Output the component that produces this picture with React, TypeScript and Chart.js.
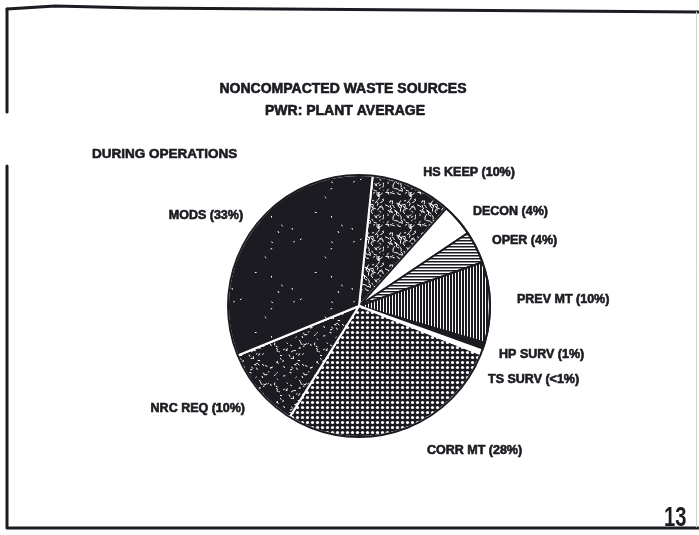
import { useEffect, useRef } from 'react';
import { Chart, registerables } from 'chart.js';

Chart.register(...registerables);

// Waste sources, clockwise from the top of the pie
const categories = ['HS KEEP', 'DECON', 'OPER', 'PREV MT', 'HP SURV', 'TS SURV', 'CORR MT', 'NRC REQ', 'MODS'];
const shares = [10, 4, 4, 10, 1, 0.5, 28, 10, 33];
const shareText = ['10%', '4%', '4%', '10%', '1%', '<1%', '28%', '10%', '33%'];

const titleLines = ['NONCOMPACTED WASTE SOURCES', 'PWR: PLANT AVERAGE'];
const subtitle = 'DURING OPERATIONS';
const pageNumber = '13';

// Label anchors around the pie: offsets in units of the pie radius, plus text alignment
const labelAnchors: [number, number, CanvasTextAlign][] = [
  [0.49, -1.02, 'left'],
  [0.87, -0.72, 'left'],
  [1.015, -0.5, 'left'],
  [1.206, -0.046, 'left'],
  [1.069, 0.374, 'left'],
  [0.985, 0.565, 'left'],
  [0.519, 1.107, 'left'],
  [-0.87, 0.779, 'right'],
  [-0.885, -0.687, 'right'],
];

const INK = '#1b1b21';
const FONT = '"Liberation Sans", Arial, sans-serif';

function seeded(seed: number) {
  let s = seed >>> 0;
  return () => {
    s = (Math.imul(s, 1664525) + 1013904223) >>> 0;
    return s / 4294967296;
  };
}

function tile(size: number, paint: (g: CanvasRenderingContext2D, n: number) => void): CanvasPattern {
  const c = document.createElement('canvas');
  c.width = size;
  c.height = size;
  const g = c.getContext('2d')!;
  paint(g, size);
  return g.createPattern(c, 'repeat')!;
}

// dark ground with scattered light flecks
function flecks(size: number, count: number, seed: number, maxLen: number) {
  return tile(size, (g, n) => {
    const r = seeded(seed);
    g.fillStyle = INK;
    g.fillRect(0, 0, n, n);
    g.strokeStyle = '#ffffff';
    g.lineWidth = 1;
    g.lineCap = 'round';
    for (let i = 0; i < count; i++) {
      const x = r() * n;
      const y = r() * n;
      const a = r() * Math.PI * 2;
      const l = 0.6 + r() * maxLen;
      g.beginPath();
      g.moveTo(x, y);
      g.lineTo(x + Math.cos(a) * l, y + Math.sin(a) * l);
      if (maxLen > 2) {
        const b = a + (r() - 0.5) * 2.4;
        g.lineTo(x + Math.cos(a) * l + Math.cos(b) * l, y + Math.sin(a) * l + Math.sin(b) * l);
      }
      g.stroke();
    }
  });
}

function stripes(horizontal: boolean, period: number, ink: number) {
  return tile(period, (g, n) => {
    g.fillStyle = '#ffffff';
    g.fillRect(0, 0, n, n);
    g.fillStyle = INK;
    if (horizontal) g.fillRect(0, 0, n, ink);
    else g.fillRect(0, 0, ink, n);
  });
}

function dots() {
  return tile(5, (g, n) => {
    g.fillStyle = INK;
    g.fillRect(0, 0, n, n);
    g.fillStyle = '#ffffff';
    g.beginPath();
    g.arc(2.5, 2.5, 1.6, 0, Math.PI * 2);
    g.fill();
  });
}

function drawText(ctx: CanvasRenderingContext2D, text: string, x: number, y: number, size: number, align: CanvasTextAlign) {
  ctx.save();
  ctx.font = `bold ${size}px ${FONT}`;
  ctx.textAlign = align;
  ctx.textBaseline = 'middle';
  ctx.fillStyle = INK;
  ctx.strokeStyle = INK;
  ctx.lineWidth = 0.6;
  ctx.fillText(text, x, y);
  ctx.strokeText(text, x, y);
  ctx.restore();
}

const pageDecor = {
  id: 'pageDecor',
  beforeDraw(chart: Chart) {
    const ctx = chart.ctx;
    ctx.save();
    ctx.fillStyle = '#ffffff';
    ctx.fillRect(0, 0, chart.width, chart.height);
    ctx.strokeStyle = INK;
    ctx.lineWidth = 3;
    ctx.lineCap = 'round';
    ctx.lineJoin = 'round';
    // top edge
    ctx.beginPath();
    ctx.moveTo(7, 9);
    ctx.lineTo(55, 6);
    ctx.lineTo(140, 8);
    ctx.lineTo(chart.width, 12);
    ctx.stroke();
    // left edge, broken
    ctx.beginPath();
    ctx.moveTo(7, 9);
    ctx.lineTo(7, 112);
    ctx.moveTo(7, 166);
    ctx.lineTo(7, 527);
    ctx.stroke();
    // bottom edge
    ctx.beginPath();
    ctx.moveTo(7, 528);
    ctx.lineTo(chart.width, 528);
    ctx.stroke();
    // faint right edge
    ctx.strokeStyle = '#d0d0d0';
    ctx.lineWidth = 1;
    ctx.beginPath();
    ctx.moveTo(chart.width - 2.5, 12);
    ctx.lineTo(chart.width - 2.5, 527);
    ctx.stroke();
    ctx.restore();
  },
  afterDatasetsDraw(chart: Chart) {
    const ctx = chart.ctx;
    const arcs = chart.getDatasetMeta(0).data as any[];
    const { x, y, outerRadius } = arcs[0].getProps(['x', 'y', 'outerRadius'], true);

    ctx.save();
    ctx.strokeStyle = INK;
    ctx.lineWidth = 2;
    ctx.beginPath();
    ctx.arc(x, y, outerRadius, 0, Math.PI * 2);
    ctx.stroke();
    ctx.restore();

    categories.forEach((c, i) => {
      const [dx, dy, align] = labelAnchors[i];
      drawText(ctx, `${c} (${shareText[i]})`, x + dx * outerRadius, y + dy * outerRadius, 12.5, align);
    });

    drawText(ctx, titleLines[0], 343, 89, 14, 'center');
    drawText(ctx, titleLines[1], 345, 111, 14, 'center');
    drawText(ctx, subtitle, 92, 154, 13.5, 'left');

    ctx.save();
    ctx.translate(664, 526);
    ctx.scale(0.72, 1);
    ctx.font = `bold 28px ${FONT}`;
    ctx.textBaseline = 'alphabetic';
    ctx.fillStyle = INK;
    ctx.fillText(pageNumber, 0, 0);
    ctx.restore();
  },
};

export default function App() {
  const ref = useRef<HTMLCanvasElement>(null);

  useEffect(() => {
    if (!ref.current) return;
    const fills: Record<string, CanvasPattern | string> = {
      'HS KEEP': flecks(32, 60, 11, 2.4),
      DECON: '#ffffff',
      OPER: stripes(true, 3, 1.5),
      'PREV MT': stripes(false, 3, 2),
      'HP SURV': INK,
      'TS SURV': '#ffffff',
      'CORR MT': dots(),
      'NRC REQ': flecks(40, 55, 29, 1.4),
      MODS: flecks(60, 10, 47, 0.8),
    };
    const edges: Record<string, string> = {
      'HS KEEP': '#ffffff',
      DECON: INK,
      OPER: INK,
      'PREV MT': INK,
      'HP SURV': INK,
      'TS SURV': '#ffffff',
      'CORR MT': '#ffffff',
      'NRC REQ': '#ffffff',
      MODS: '#ffffff',
    };

    const chart = new Chart(ref.current, {
      type: 'pie',
      data: {
        labels: categories,
        datasets: [
          {
            data: shares,
            backgroundColor: categories.map((c) => fills[c]),
            borderColor: categories.map((c) => edges[c]),
            borderWidth: 2,
            hoverOffset: 0,
            offset: 0,
          },
        ],
      },
      options: {
        responsive: false,
        animation: false,
        rotation: 6,
        layout: { padding: { left: 227, right: 208, top: 174, bottom: 97 } },
        plugins: {
          legend: { display: false },
          title: { display: false },
          tooltip: { enabled: false },
        },
        events: [],
      },
      plugins: [pageDecor],
    });
    return () => chart.destroy();
  }, []);

  return (
    <div style={{ position: 'absolute', left: 0, top: 0, width: 699, height: 535, background: '#fff' }}>
      <canvas ref={ref} width={699} height={535} style={{ display: 'block' }} />
    </div>
  );
}
